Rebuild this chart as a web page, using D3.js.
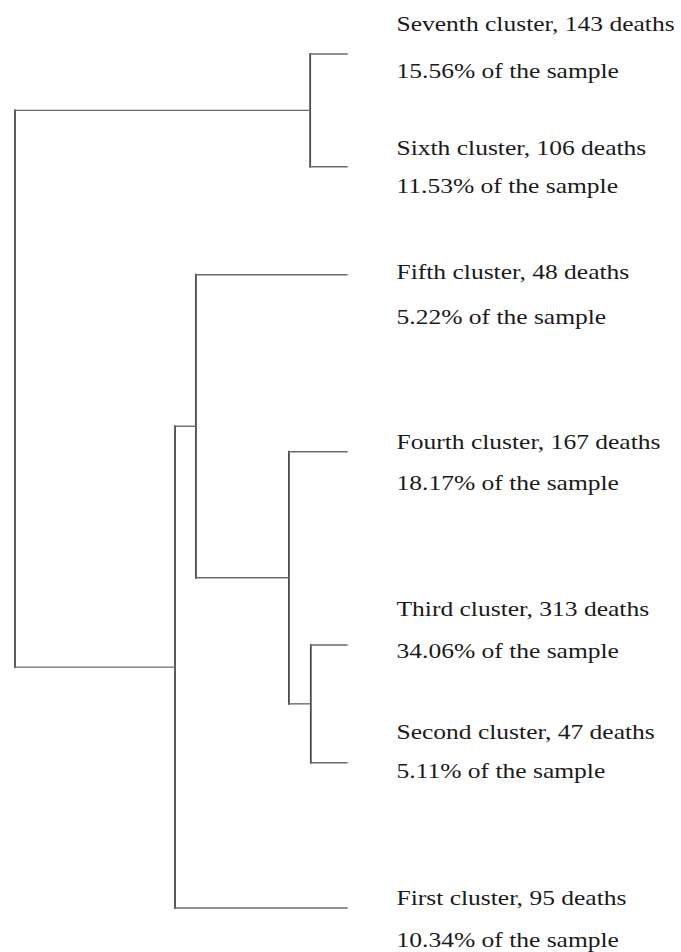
<!DOCTYPE html>
<html>
<head>
<meta charset="utf-8">
<script src="https://cdn.jsdelivr.net/npm/d3@7"></script>
<style>
  html, body { margin: 0; padding: 0; background: #ffffff; }
  svg { display: block; }
</style>
</head>
<body>
<script>
// ---- data ----
const clusterNames = ["Seventh cluster", "Sixth cluster", "Fifth cluster", "Fourth cluster", "Third cluster", "Second cluster", "First cluster"];
const clusterDeaths = [143, 106, 48, 167, 313, 47, 95];
const clusterShare = ["15.56", "11.53", "5.22", "18.17", "34.06", "5.11", "10.34"];
// merge distances of internal nodes (linkage heights)
const mergeNames = ["root", "A", "B", "C", "D", "E"];
const mergeHeights = [10, 1.11, 5.18, 4.55, 1.75, 1.09];
// tree structure: parent of each node
const treeLinks = [
  ["A", "root"], ["B", "root"],
  ["Seventh cluster", "A"], ["Sixth cluster", "A"],
  ["C", "B"], ["First cluster", "B"],
  ["Fifth cluster", "C"], ["D", "C"],
  ["Fourth cluster", "D"], ["E", "D"],
  ["Third cluster", "E"], ["Second cluster", "E"]
];

// ---- layout (pixels) ----
const W = 681, H = 952;
const leafRowY = [54, 166.7, 274.7, 451.7, 645, 762.7, 908];
const labelLine1Y = [30.7, 155, 279.3, 449.3, 616, 739.3, 905];
const labelLine2Y = [78, 193.3, 324, 490, 658.3, 778.3, 947.3];
const labelX = 396.5;

const svg = d3.select("body").append("svg").attr("width", W).attr("height", H);

const heightOf = new Map(mergeNames.map((n, i) => [n, mergeHeights[i]]));
clusterNames.forEach(n => heightOf.set(n, 0));

const table = [{ id: "root", parent: null }].concat(treeLinks.map(([c, p]) => ({ id: c, parent: p })));
const root = d3.stratify().id(d => d.id).parentId(d => d.parent)(table);

const x = d3.scaleLinear().domain([0, d3.max(mergeHeights)]).range([347, 15]);
const leafY = d3.scaleOrdinal().domain(clusterNames).range(leafRowY);

// assign positions: leaves by row, internal nodes at midpoint of children
root.eachAfter(n => {
  n.px = x(heightOf.get(n.id));
  if (!n.children) n.py = leafY(n.id);
  else n.py = (n.children[0].py + n.children[n.children.length - 1].py) / 2;
});

const g = svg.append("g").attr("fill", "none").attr("stroke-linecap", "square");

// vertical connectors
root.descendants().filter(n => n.children).forEach(n => {
  const ys = n.children.map(c => c.py);
  g.append("line")
    .attr("x1", n.px).attr("x2", n.px)
    .attr("y1", d3.min(ys)).attr("y2", d3.max(ys))
    .attr("stroke", "#4a4a4a").attr("stroke-width", 1.8);
});
// horizontal connectors
root.descendants().filter(n => n.parent).forEach(n => {
  g.append("line")
    .attr("x1", n.parent.px).attr("x2", n.px)
    .attr("y1", n.py).attr("y2", n.py)
    .attr("stroke", "#6a6a6a").attr("stroke-width", 1.4);
});

// labels
const labels = svg.append("g")
  .attr("font-family", "'Liberation Serif', 'Times New Roman', serif")
  .attr("font-size", 22)
  .attr("fill", "#1a1a1a");

clusterNames.forEach((name, i) => {
  labels.append("text")
    .attr("transform", `translate(${labelX},${labelLine1Y[i]}) scale(1.16,1)`)
    .text(`${name}, ${clusterDeaths[i]} deaths`);
  labels.append("text")
    .attr("transform", `translate(${labelX},${labelLine2Y[i]}) scale(1.16,1)`)
    .text(`${clusterShare[i]}% of the sample`);
});
</script>
</body>
</html>
